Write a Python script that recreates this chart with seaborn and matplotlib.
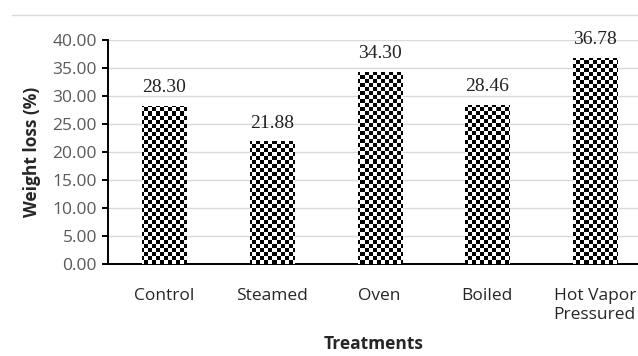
import numpy as np
import pandas as pd
import matplotlib
matplotlib.use("Agg")
import matplotlib.pyplot as plt
import seaborn as sns
from matplotlib.lines import Line2D

treatments = ["Control", "Steamed", "Oven", "Boiled", "Hot Vapor\nPressured"]
weight_loss = [28.30, 21.88, 34.30, 28.46, 36.78]
y_ticks = [0, 5, 10, 15, 20, 25, 30, 35, 40]

df = pd.DataFrame({"treatment": treatments, "weight_loss": weight_loss})

sns.set_style("white")
plt.rcParams["font.family"] = ["Open Sans", "DejaVu Sans"]

W, H = 638, 356
fig = plt.figure(figsize=(W / 100, H / 100), dpi=100)
# axes box in whole pixels so the checker cells stay crisp
ax = fig.add_axes([108 / W, 92 / H, 532 / W, 224 / H])

sns.barplot(data=df, x="treatment", y="weight_loss", color="white",
            width=0.41, ax=ax, zorder=3)

xlim = (-0.525, 4.42)
ylim = (0, 40)

# checkerboard fill clipped to each bar (4 px cells)
yy, xx = np.mgrid[0:56, 0:133]
board = ((xx + yy) % 2).astype(float)
for patch in ax.patches:
    im = ax.imshow(board, cmap="gray", vmin=0, vmax=1, interpolation="nearest",
                   extent=(xlim[0], xlim[1], ylim[0], ylim[1]), aspect="auto",
                   zorder=3)
    im.set_clip_path(patch)
    patch.set_edgecolor("none")

ax.set_xlim(*xlim)
ax.set_ylim(*ylim)
ax.set_yticks(y_ticks)
ax.set_yticklabels([f"{v:.2f}" for v in y_ticks])

for patch, v in zip(ax.patches, weight_loss):
    ax.annotate(f"{v:.2f}", (patch.get_x() + patch.get_width() / 2, v),
                xytext=(0, 7), textcoords="offset points", ha="center",
                va="bottom", fontsize=14, family="Liberation Serif",
                color="#222222", zorder=4)

ax.grid(axis="y", color="#d9d9d9", linewidth=1, zorder=0)
ax.set_axisbelow(True)
for s in ["top", "right"]:
    ax.spines[s].set_visible(False)
for s in ["left", "bottom"]:
    ax.spines[s].set_color("black")
    ax.spines[s].set_linewidth(1.4)

ax.tick_params(axis="y", which="major", left=True, length=4, width=1.4,
               color="black", labelsize=12.5, labelcolor="#595959", pad=4)
ax.tick_params(axis="x", bottom=False, labelsize=12.5, labelcolor="#262626", pad=14)

ax.set_ylabel("Weight loss (%)", fontsize=12.5, fontweight="bold", labelpad=8)
ax.set_xlabel("Treatments", fontsize=12.5, fontweight="bold", labelpad=9)

fig.add_artist(Line2D([12 / W, 1], [1 - 15 / H, 1 - 15 / H],
                      color="#d9d9d9", linewidth=1, transform=fig.transFigure))

fig.savefig("out.png", dpi=100)
plt.close(fig)
